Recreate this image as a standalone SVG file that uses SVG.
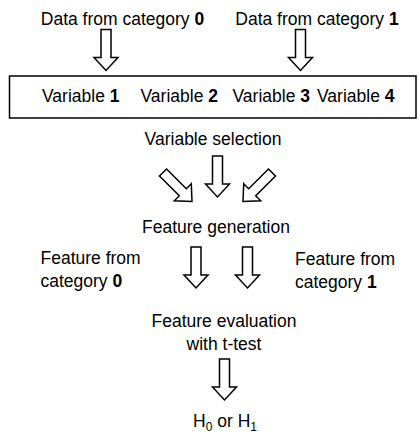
<svg xmlns="http://www.w3.org/2000/svg" width="419" height="437" viewBox="0 0 419 437">
<style>
text{font-family:"Liberation Sans",Arial,sans-serif;font-size:17.5px;fill:#000}
.b{font-weight:bold}
.arrow{fill:#fff;stroke:#000;stroke-width:1.5;stroke-linejoin:miter}
.box{fill:#fff;stroke:#000;stroke-width:1.5}
.sub{font-size:12px}
</style>
<defs>
<path id="arr" d="M-5,-41 L5,-41 L5,-13 L12,-13 L0,0 L-12,-13 L-5,-13 Z"/>
</defs>
<g id="src0"><text x="122.5" y="25" text-anchor="middle">Data from category <tspan class="b">0</tspan></text></g>
<g id="src1"><text x="317" y="25" text-anchor="middle">Data from category <tspan class="b">1</tspan></text></g>
<g id="variables">
<rect class="box" x="9.5" y="76" width="406.5" height="42"/>
<text y="102"><tspan x="42">Variable <tspan class="b">1</tspan></tspan><tspan x="140.5">Variable <tspan class="b">2</tspan></tspan><tspan x="232.5">Variable <tspan class="b">3</tspan></tspan><tspan x="317">Variable <tspan class="b">4</tspan></tspan></text>
</g>
<g id="selection"><text x="213" y="145" text-anchor="middle">Variable selection</text></g>
<g id="generation"><text x="216" y="233" text-anchor="middle">Feature generation</text></g>
<g id="feat0"><text x="40.5" y="264">Feature from</text><text x="40.5" y="286.5">category <tspan class="b">0</tspan></text></g>
<g id="feat1"><text x="295" y="265">Feature from</text><text x="295" y="287.5">category <tspan class="b">1</tspan></text></g>
<g id="evaluation"><text x="224" y="327" text-anchor="middle">Feature evaluation</text><text x="224" y="350" text-anchor="middle">with t-test</text></g>
<g id="result"><text x="225" y="427" text-anchor="middle">H<tspan class="sub" dy="4">0</tspan><tspan dy="-4"> or H</tspan><tspan class="sub" dy="4">1</tspan></text></g>
<g id="connectors">
<use href="#arr" class="arrow" transform="translate(106,70.5)"/>
<use href="#arr" class="arrow" transform="translate(300.5,70.5)"/>
<use href="#arr" class="arrow" transform="translate(217.5,197)"/>
<use href="#arr" class="arrow" transform="translate(192,201.5) rotate(-45)"/>
<use href="#arr" class="arrow" transform="translate(243,201.5) rotate(45)"/>
<use href="#arr" class="arrow" transform="translate(196,288)"/>
<use href="#arr" class="arrow" transform="translate(247.5,288)"/>
<use href="#arr" class="arrow" transform="translate(224.5,400)"/>
</g>
</svg>
